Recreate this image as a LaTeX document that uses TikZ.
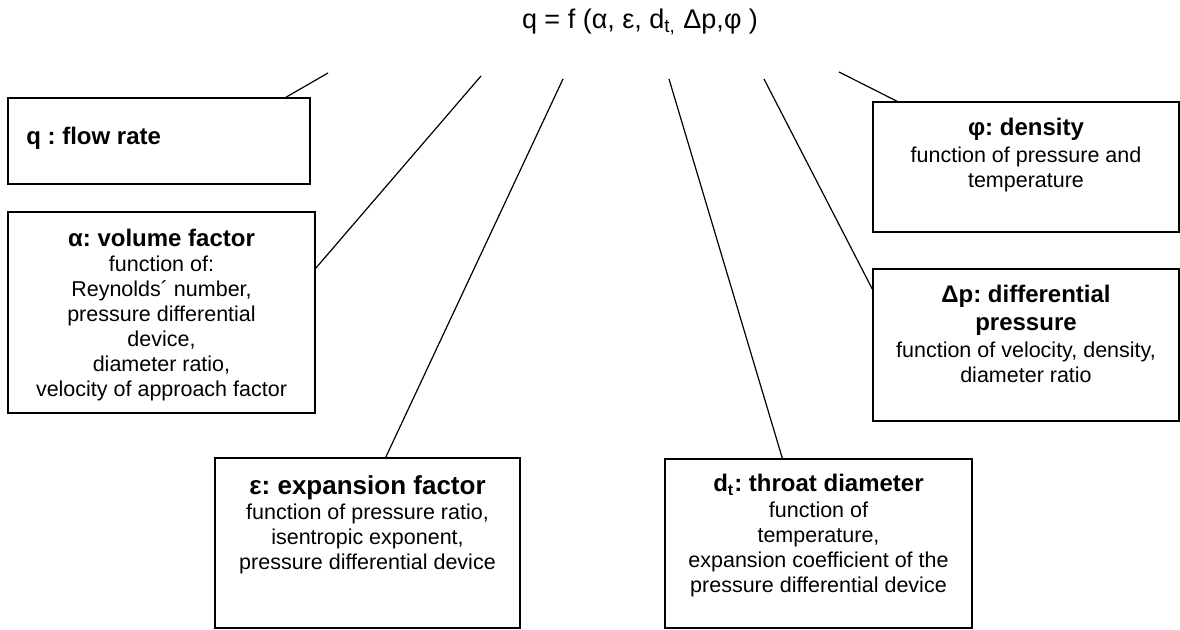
\documentclass[tikz,border=0pt]{standalone}
\usepackage{fontspec}
\setmainfont{Liberation Sans}
\usetikzlibrary{positioning}
\frenchspacing

\newcommand{\head}[1]{{\fontsize{12}{14}\selectfont\bfseries #1}}

\begin{document}
\begin{tikzpicture}[x=0.5pt, y=0.5pt,
		box/.style={draw, line width=0.7pt, inner sep=0pt},
		txt/.style={align=center, inner sep=0pt, outer sep=0pt, font=\fontsize{10.75}{12.5}\selectfont},
		link/.style={line width=0.6pt}]
		\useasboundingbox (0,0) rectangle (1180,630);
		\node[font=\fontsize{13.5}{16}\selectfont] (formula) at (640,608) {q = f (α, ε, d\textsubscript{t,} Δp,φ )};

		\node[box, minimum width=151pt, minimum height=43pt] (flowRate) at (159,489) {};
		\node[box, minimum width=153.5pt, minimum height=100.5pt] (volFactor) at (161.5,317.5) {};
		\node[box, minimum width=152.5pt, minimum height=85pt] (expFactor) at (367.5,87) {};
		\node[box, minimum width=153.5pt, minimum height=84.5pt] (throatDiam) at (818.5,86.5) {};
		\node[box, minimum width=153pt, minimum height=76pt] (diffPress) at (1026,285) {};
		\node[box, minimum width=153pt, minimum height=65pt] (density) at (1026,463) {};

		\node[txt, right=9.5pt of flowRate.west, yshift=1.5pt] (flowText) {\head{q : flow rate}};
		\node[txt, below=9pt of volFactor.north] (volText) {\head{α: volume factor}\\ function of:\\ Reynolds´ number,\\ pressure differential\\ device,\\ diameter ratio,\\ velocity of approach factor};
		\node[txt, below=9pt of expFactor.north] (expText) {{\fontsize{13}{15}\selectfont\bfseries ε: expansion factor}\\ function of pressure ratio,\\ isentropic exponent,\\ pressure differential device};
		\node[txt, below=8pt of throatDiam.north] (throatText) {\head{d\textsubscript{t}: throat diameter}\\[0.5pt] function of\\ temperature,\\ expansion coefficient of the\\ pressure differential device};
		\node[txt, below=8.5pt of diffPress.north] (diffText) {\head{Δp: differential}\\[1.5pt] \head{pressure}\\[1pt] function of velocity, density,\\ diameter ratio};
		\node[txt, below=8.5pt of density.north] (densText) {\head{φ: density}\\[1pt] function of pressure and\\ temperature};

		\coordinate (toFlow) at (328,557);
		\coordinate (toVol) at (481,554);
		\coordinate (toExp) at (563,551);
		\coordinate (toThroat) at (669,551);
		\coordinate (toDiff) at (764,551);
		\coordinate (toDens) at (839,558);
		\draw[link] (toFlow) -- (flowRate.19);
		\draw[link] (toVol) -- (volFactor.16);
		\draw[link] (toExp) -- (expFactor.78);
		\draw[link] (toThroat) -- (throatDiam.113);
		\draw[link] (toDiff) -- (diffPress.160);
		\draw[link] (toDens) -- (density.153);
	\end{tikzpicture}
\end{document}
